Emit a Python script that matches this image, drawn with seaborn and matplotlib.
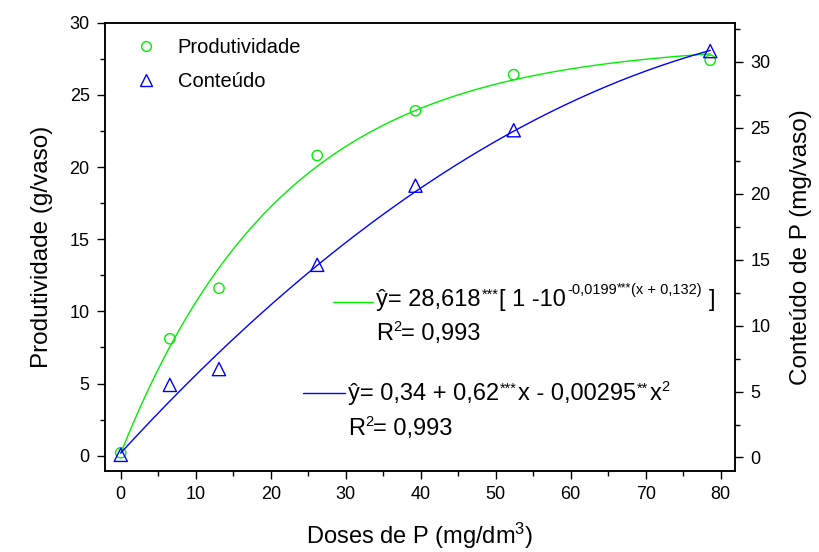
import numpy as np
import pandas as pd
import matplotlib
matplotlib.use("Agg")
import matplotlib.pyplot as plt
from matplotlib.lines import Line2D
from matplotlib.ticker import MultipleLocator
from matplotlib.transforms import IdentityTransform
import seaborn as sns

# Observed values
dose = [0, 6.55, 13.1, 26.2, 39.3, 52.4, 78.6]
produtividade = [0.2, 8.1, 11.6, 20.8, 23.9, 26.4, 27.4]
conteudo = [0.2, 5.5, 6.7, 14.6, 20.6, 24.8, 30.8]

# Fitted model coefficients
mit_a, mit_c, mit_b = 28.618, 0.0199, 0.132
quad_b0, quad_b1, quad_b2 = 0.34, 0.62, -0.00295

sns.set_theme(style="ticks")
plt.rcParams["font.family"] = ["Liberation Sans", "DejaVu Sans"]
plt.rcParams["mathtext.fontset"] = "custom"
plt.rcParams["mathtext.rm"] = "Liberation Sans"
plt.rcParams["mathtext.it"] = "Liberation Sans"
plt.rcParams["mathtext.bf"] = "Liberation Sans"
plt.rcParams["mathtext.default"] = "regular"
for key in ("text.color", "axes.labelcolor", "xtick.color", "ytick.color",
            "axes.edgecolor"):
    plt.rcParams[key] = "black"

GREEN = "#00ee00"
BLUE = "#0000ff"

obs = pd.DataFrame({"dose": dose, "prod": produtividade, "cont": conteudo})
xf = np.linspace(0, max(dose), 300)
fit = pd.DataFrame({
    "dose": xf,
    "prod": mit_a * (1 - 10 ** (-mit_c * (xf + mit_b))),
    "cont": quad_b0 + quad_b1 * xf + quad_b2 * xf ** 2,
})

fig = plt.figure(figsize=(8.19, 5.52), dpi=100)
ax = fig.add_axes([0.1282, 0.1473, 0.7692, 0.8116])
ax2 = ax.twinx()

sns.lineplot(data=fit, x="dose", y="prod", ax=ax, color=GREEN, lw=1.0)
sns.scatterplot(data=obs, x="dose", y="prod", ax=ax, marker="o", s=55,
                facecolor="none", edgecolor=GREEN, linewidth=1.0, zorder=3)
sns.lineplot(data=fit, x="dose", y="cont", ax=ax2, color=BLUE, lw=1.0)
sns.scatterplot(data=obs, x="dose", y="cont", ax=ax2, marker="^", s=90,
                facecolor="none", edgecolor=BLUE, linewidth=1.0, zorder=3)

ax.set_xlim(-2.1, 81.9)
ax.set_ylim(-1.04, 30)
ax2.set_ylim(-1.0, 32.95)

for a in (ax, ax2):
    for sp in a.spines.values():
        sp.set_linewidth(1.1)
        sp.set_color("black")
    a.tick_params(which="major", length=6, width=1.0, labelsize=13, pad=5,
                  color="black", labelcolor="black", direction="out")
    a.tick_params(which="minor", length=3.5, width=1.0, color="black",
                  direction="out")

ax.xaxis.set_major_locator(MultipleLocator(10))
ax.xaxis.set_minor_locator(MultipleLocator(5))
ax.yaxis.set_major_locator(MultipleLocator(5))
ax.yaxis.set_minor_locator(MultipleLocator(2.5))
ax2.yaxis.set_major_locator(MultipleLocator(5))
ax2.yaxis.set_minor_locator(MultipleLocator(2.5))
ax.tick_params(axis="y", which="both", left=True, right=False)
ax2.tick_params(axis="y", which="both", left=False, right=True)

ax.set_xlabel("Doses de P (mg/dm$^3$)", fontsize=17, labelpad=13)
ax.set_ylabel("Produtividade (g/vaso)", fontsize=17.5, labelpad=12)
ax2.set_ylabel("Conteúdo de P (mg/vaso)", fontsize=17.5, labelpad=14)

handles = [
    Line2D([], [], ls="none", marker="o", ms=7, mfc="none", mec=GREEN, mew=1.0),
    Line2D([], [], ls="none", marker="^", ms=9, mfc="none", mec=BLUE, mew=1.0),
]
ax.legend(handles, ["Produtividade", "Conteúdo"], loc="upper left",
          bbox_to_anchor=(0.026, 0.997), frameon=False, fontsize=14.5,
          handlelength=1.0, handletextpad=1.1, labelspacing=0.72,
          borderaxespad=0.3)

# Regression equations: baseline text with raised, smaller superscripts
renderer = fig.canvas.get_renderer()
MAIN, SUP, STAR = 17, 10.5, 10.5


def rich_text(xa, ya, parts):
    """Write a run of text pieces; each piece is (text, size, rise_px, gap_px)."""
    x0, y0 = ax.transAxes.transform((xa, ya))
    x = x0
    for s, size, rise, gap in parts:
        x += gap
        t = fig.text(x, y0 + rise, s, transform=IdentityTransform(),
                     fontsize=size, va="baseline", ha="left")
        x = t.get_window_extent(renderer).x1


ax.plot([0.362, 0.425], [0.377, 0.377], color=GREEN, lw=1.0,
        transform=ax.transAxes)
rich_text(0.430, 0.368, [
    ("ŷ= 28,618", MAIN, 0, 0),
    ("***", STAR, 7, 1),
    ("[ 1 -10", MAIN, 0, 1),
    ("-0,0199", SUP, 12, 1),
    ("***", STAR * 0.85, 14, 0),
    ("(x + 0,132)", SUP, 12, 0),
    ("]", MAIN, 0, 7),
])
rich_text(0.430, 0.292, [("R", MAIN, 0, 0), ("2", SUP, 9, 0),
                         ("= 0,993", MAIN, 0, 0)])

ax.plot([0.3143, 0.381], [0.1734, 0.1734], color=BLUE, lw=1.0,
        transform=ax.transAxes)
rich_text(0.386, 0.158, [
    ("ŷ= 0,34 + 0,62", MAIN, 0, 0),
    ("***", STAR, 7, 1),
    ("x - 0,00295", MAIN, 0, 1),
    ("**", STAR, 7, 1),
    ("x", MAIN, 0, 1),
    ("2", SUP, 9, 0),
])
rich_text(0.386, 0.0797, [("R", MAIN, 0, 0), ("2", SUP, 9, 0),
                          ("= 0,993", MAIN, 0, 0)])

fig.savefig("out.png", dpi=100)
